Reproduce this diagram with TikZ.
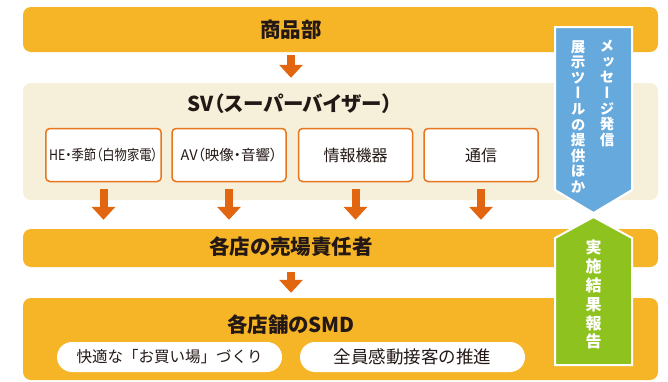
\documentclass[tikz,border=0pt]{standalone}
\usepackage{fontspec}
\usepackage{graphicx}
\setmainfont{Noto Sans CJK JP}
\newfontfamily\vertfont[RawFeature=+vert]{Noto Sans CJK JP}
\newfontfamily\paltfont[RawFeature=+palt]{Noto Sans CJK JP}
\usetikzlibrary{arrows.meta}

\definecolor{barorange}{HTML}{F6B526}
\definecolor{svbeige}{HTML}{F6EFD9}
\definecolor{flowarrow}{HTML}{E2650F}
\definecolor{boxline}{HTML}{E8761F}
\definecolor{msgblue}{HTML}{66A9DC}
\definecolor{reportgreen}{HTML}{8DC21F}
\definecolor{inkdark}{HTML}{231815}

\newcommand{\squeeze}[2]{\scalebox{#1}[1]{#2}}

\tikzset{
  band/.style={fill=barorange, rounded corners=8pt, inner sep=0pt, minimum width=635pt},
  heading/.style={text=inkdark, font=\paltfont\fontsize{20.5}{22}\selectfont\bfseries, inner sep=0pt},
  catbox/.style={draw=boxline, line width=1.5pt, fill=white, rounded corners=4pt,
    minimum width=114pt, minimum height=53pt, text=inkdark, font=\fontsize{16}{18}\selectfont},
  pill/.style={fill=white, rounded corners=15pt, minimum width=225pt, minimum height=30pt,
    text=inkdark, inner sep=0pt},
  flow/.style={draw=flowarrow, line width=8pt, -{Triangle[width=23pt,length=13pt]}},
  vtext/.style={text=white, align=center, inner sep=0pt, anchor=north}
}

\begin{document}
\begin{tikzpicture}[x=1pt, y=-1pt]
 \useasboundingbox (0,0) rectangle (668,381);

 %% bands
 \node [band, minimum height=45pt] (hq) at (340.5,29.5) {};
 \node [band, fill=svbeige, minimum height=117pt] (sv) at (340.5,141.5) {};
 \node [band, minimum height=38pt] (floor) at (340.5,248) {};
 \node [band, minimum height=82pt] (smd) at (340.5,339) {};

 \node [heading] (hqtext) at (291,30) {商品部};
 \node [heading] (svtext) at (290,104) {SV（スーパーバイザー）};
 \node [heading] (floortext) at (291,247) {各店の売場責任者};
 \node [heading] (smdtext) at (291,325) {各店舗のSMD};

 %% SV categories
 \node [catbox] (he) at (103.5,155) {\paltfont\fontsize{14.5}{16}\selectfont\squeeze{0.85}{HE・季節（白物家電）}};
 \node [catbox] (av) at (229,155) {\paltfont\fontsize{14.5}{16}\selectfont AV（映像・音響）};
 \node [catbox] (info) at (355.5,155) {情報機器};
 \node [catbox] (comm) at (481,155) {通信};

 \node [pill, font=\fontsize{15.5}{17}\selectfont] (kaiteki) at (169.5,357) {快適な「お買い場」づくり};
 \node [pill, font=\fontsize{17.5}{19}\selectfont] (kando) at (412.5,357) {全員感動接客の推進};

 %% flow
 \draw [flow, shorten <=3pt, shorten >=5pt] (hqtext |- hq.south) -- (hqtext |- sv.north);
 \foreach \c in {he,av,info,comm}
   \draw [flow, shorten <=7pt, shorten >=9pt] (\c.south) -- (\c.south |- floor.north);
 \draw [flow, shorten <=5pt, shorten >=5pt] (floortext |- floor.south) -- (floortext |- smd.north);

 %% side arrows
 \draw [fill=msgblue, draw=white, line width=2pt] (555,27) -- (632,27) -- (632,190) -- (593.5,213) -- (555,190) -- cycle;
 \draw [fill=reportgreen, draw=white, line width=2pt] (593.5,217) -- (632,238) -- (632,365) -- (555,365) -- (555,238) -- cycle;

 \node [vtext, font=\vertfont\fontsize{14.5}{15.6}\selectfont\bfseries] (message) at (607,40) {メ\\ッ\\セ\\ー\\ジ\\発\\信};
 \node [vtext, font=\vertfont\fontsize{14.5}{15.6}\selectfont\bfseries] (tools) at (578,40) {展\\示\\ツ\\ー\\ル\\の\\提\\供\\ほ\\か};
 \node [vtext, font=\vertfont\fontsize{16}{18.8}\selectfont\bfseries] (report) at (593.5,240) {実\\施\\結\\果\\報\\告};
\end{tikzpicture}
\end{document}
